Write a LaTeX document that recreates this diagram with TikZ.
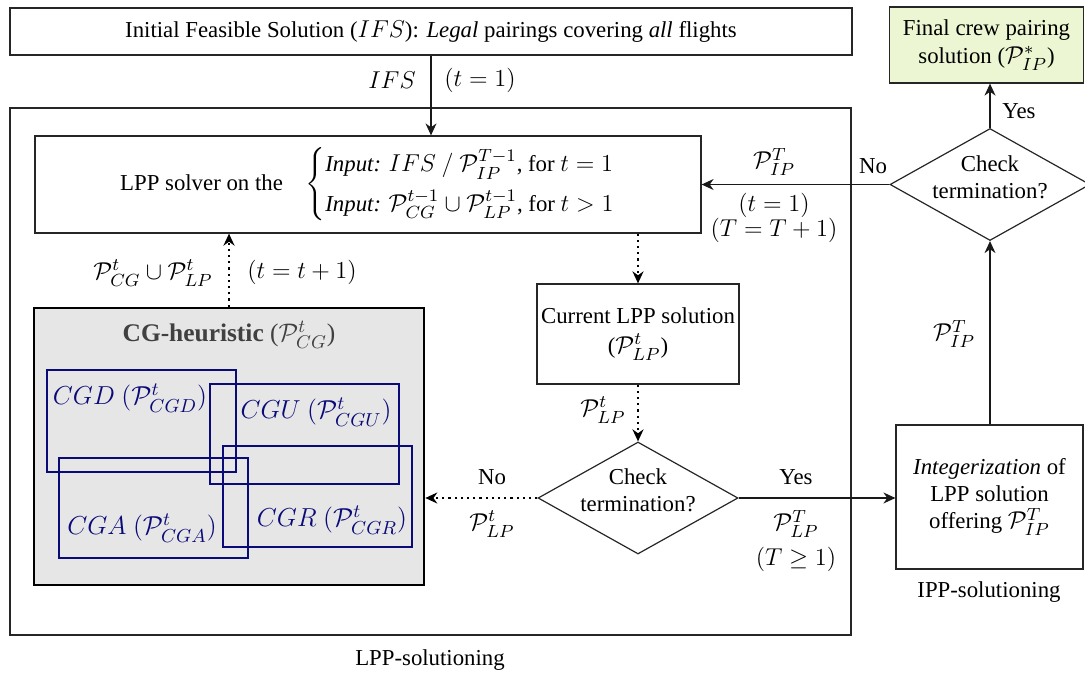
\RequirePackage{fix-cm}
\documentclass[tikz,border=0pt]{standalone}
\usepackage[no-math]{fontspec}
\setmainfont{Liberation Serif}
\usepackage{amsmath,amssymb}
\DeclareMathSizes{11.4}{12.2}{8.8}{6.6}
\DeclareMathSizes{12.7}{12.7}{9.2}{7}
\DeclareMathSizes{13}{13}{9.4}{7.2}
\usetikzlibrary{arrows.meta,shapes.geometric}
\definecolor{navyc}{RGB}{10,10,120}
\definecolor{cgfill}{RGB}{230,230,230}
\definecolor{finalfill}{RGB}{236,246,210}
\definecolor{titlegray}{RGB}{64,64,64}
\tikzset{
  box/.style={draw=black!85, line width=0.6pt, rectangle, inner sep=0pt, align=center},
  dia/.style={draw=black!85, line width=0.6pt, diamond, aspect=1.8, inner sep=0pt, minimum width=100pt, minimum height=56pt},
  cgrect/.style={draw=navyc, line width=1.1pt, rectangle, inner sep=0pt},
  cglab/.style={text=navyc, font=\fontsize{13}{15.6}\selectfont},
  arr/.style={-{Stealth[length=6pt,width=5.5pt]}, line width=0.6pt, draw=black!90},
  darr/.style={-{Stealth[length=6pt,width=5.5pt]}, line width=1.1pt, dotted},
  lab/.style={inner sep=1pt, align=center}
}
\begin{document}
\begin{tikzpicture}[x=0.5pt,y=-0.5pt, font=\fontsize{11.4}{13.7}\selectfont]
\useasboundingbox (0,0) rectangle (1085,674);
% outer LPP-solutioning box
\node[box, minimum width=420.5pt, minimum height=263.5pt] (lppsol) at (430.5,371.5) {};
\node[lab] (lppsollab) at (430,660) {LPP-solutioning};
% top box
\node[box, minimum width=421pt, minimum height=23.5pt] (top) at (431,31.5)
  {Initial Feasible Solution ($IFS$): \textit{Legal} pairings covering \textit{all} flights};
% LPP solver box
\node[box, minimum width=333pt, minimum height=48.5pt] (lpp) at (368,184.5)
  {LPP solver on the\quad $\left\{\begin{array}{@{}l@{}}
   \text{\textit{Input:} } IFS\ /\ \mathcal{P}_{IP}^{T-1}\text{, for } t=1\\[5pt]
   \text{\textit{Input:} } \mathcal{P}_{CG}^{t-1}\cup\mathcal{P}_{LP}^{t-1}\text{, for } t>1
   \end{array}\right.$};
% CG heuristic box
\node[draw=black, line width=1.3pt, fill=cgfill, rectangle, minimum width=195pt, minimum height=138.5pt] (cg) at (229,446.5) {};
\node[text=titlegray, font=\fontsize{12.7}{15}\selectfont] (cgtitle) at (229,335) {\textbf{CG-heuristic} ($\mathcal{P}_{CG}^{t}$)};
\node[cgrect, minimum width=94.5pt, minimum height=51pt] (cgd) at (141.5,421) {};
\node[cgrect, minimum width=94.5pt, minimum height=50pt] (cgu) at (304.5,434) {};
\node[cgrect, minimum width=94.5pt, minimum height=50pt] (cga) at (153.5,508) {};
\node[cgrect, minimum width=94.5pt, minimum height=50.5pt] (cgr) at (317.5,496.5) {};
\node[cglab] (cgdl) at (130,398) {$CGD\ (\mathcal{P}_{CGD}^{t})$};
\node[cglab] (cgul) at (316,412) {$CGU\ (\mathcal{P}_{CGU}^{t})$};
\node[cglab] (cgal) at (142,528) {$CGA\ (\mathcal{P}_{CGA}^{t})$};
\node[cglab] (cgrl) at (332,520) {$CGR\ (\mathcal{P}_{CGR}^{t})$};
% current LPP solution
\node[box, minimum width=101pt, minimum height=50pt] (cur) at (638,334)
  {Current LPP solution\\[1pt]($\mathcal{P}_{LP}^{t}$)};
% diamond 1
\node[dia] (d1) at (638,498) {};
\node[lab] (d1t) at (638,490) {Check\\termination?};
% integerization
\node[box, minimum width=93.5pt, minimum height=72pt] (integ) at (989.5,497)
  {\textit{Integerization} of\\LPP solution\\offering $\mathcal{P}_{IP}^{T}$};
\node[lab] (ipplab) at (989,592) {IPP-solutioning};
% diamond 2
\node[dia] (d2) at (990,184.5) {};
\node[lab] (d2t) at (990,177) {Check\\termination?};
% final box
\node[box, fill=finalfill, minimum width=97pt, minimum height=38pt] (final) at (986.5,45)
  {Final crew pairing\\solution ($\mathcal{P}_{IP}^{*}$)};
% connectors
\draw[arr] (top.south) -- (top.south |- lpp.north);
\node[lab] (l1) at (392,80) {$IFS$};
\node[lab] (l2) at (480,80) {$(t=1)$};
\draw[darr] (cg.north) -- (cg.north |- lpp.south);
\node[lab] (l3) at (153,273) {$\mathcal{P}_{CG}^{t}\cup\mathcal{P}_{LP}^{t}$};
\node[lab] (l4) at (302,272) {$(t=t+1)$};
\draw[darr] (cur.north |- lpp.south) -- (cur.north);
\draw[darr] (cur.south) -- (d1.north);
\node[lab] (l5) at (603,410) {$\mathcal{P}_{LP}^{t}$};
\draw[darr] (d1.west) -- (d1.west -| cg.east);
\node[lab] (l6) at (492,477) {No};
\node[lab] (l7) at (492,524) {$\mathcal{P}_{LP}^{t}$};
\draw[arr] (d1.east) -- (d1.east -| integ.west);
\node[lab] (l8) at (796,477) {Yes};
\node[lab] (l9) at (796,524) {$\mathcal{P}_{LP}^{T}$};
\node[lab] (l10) at (796,559) {$(T\geq 1)$};
\draw[arr] (integ.north -| d2.south) -- (d2.south);
\node[lab] (l11) at (954,334) {$\mathcal{P}_{IP}^{T}$};
\draw[arr] (d2.north) -- (d2.north |- final.south);
\node[lab] (l12) at (1019,111) {Yes};
\draw[arr] (d2.west) -- (d2.west -| lpp.east);
\node[lab] (l13) at (873,166) {No};
\node[lab] (l14) at (774,162) {$\mathcal{P}_{IP}^{T}$};
\node[lab] (l15) at (774,205) {$(t=1)$};
\node[lab] (l16) at (774,230) {$(T=T+1)$};
\end{tikzpicture}
\end{document}
